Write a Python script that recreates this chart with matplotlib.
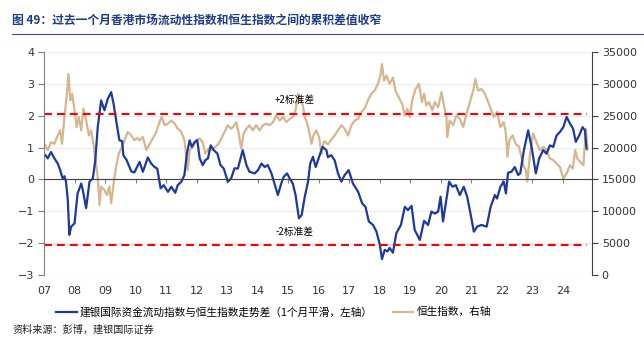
import matplotlib
matplotlib.use('Agg')
import matplotlib.pyplot as plt
from matplotlib.lines import Line2D

plt.rcParams['font.family'] = ['DejaVu Sans', 'Noto Sans CJK SC']
cjk = ['Noto Sans CJK SC', 'DejaVu Sans']

# blue line: liquidity index vs HSI spread, 1m smoothed (left axis)
flow_t = [2007.05, 2007.12, 2007.23, 2007.34, 2007.45, 2007.53, 2007.61, 2007.67, 2007.72, 2007.78,
          2007.83, 2007.89, 2008.00, 2008.10, 2008.22, 2008.27, 2008.38, 2008.49, 2008.60, 2008.68,
          2008.76, 2008.87, 2008.98, 2009.09, 2009.20, 2009.28, 2009.38, 2009.47, 2009.56, 2009.60,
          2009.71, 2009.86, 2009.96, 2010.13, 2010.24, 2010.40, 2010.51, 2010.62, 2010.71, 2010.82,
          2010.92, 2011.06, 2011.17, 2011.30, 2011.38, 2011.50, 2011.60, 2011.68, 2011.77, 2011.84,
          2011.93, 2012.02, 2012.10, 2012.20, 2012.28, 2012.37, 2012.46, 2012.56, 2012.68, 2012.78,
          2012.89, 2013.02, 2013.13, 2013.24, 2013.35, 2013.51, 2013.63, 2013.73, 2013.90, 2014.01,
          2014.12, 2014.23, 2014.33, 2014.45, 2014.55, 2014.66, 2014.77, 2014.85, 2014.96, 2015.05,
          2015.15, 2015.24, 2015.35, 2015.44, 2015.54, 2015.65, 2015.72, 2015.81, 2015.90, 2016.01,
          2016.12, 2016.25, 2016.30, 2016.41, 2016.52, 2016.63, 2016.74, 2016.85, 2016.98, 2017.12,
          2017.29, 2017.42, 2017.53, 2017.64, 2017.78, 2017.89, 2018.00, 2018.07, 2018.16, 2018.25,
          2018.32, 2018.43, 2018.54, 2018.69, 2018.82, 2018.92, 2019.04, 2019.14, 2019.31, 2019.45,
          2019.58, 2019.69, 2019.80, 2019.91, 2019.99, 2020.07, 2020.16, 2020.27, 2020.38, 2020.49,
          2020.62, 2020.75, 2020.86, 2020.97, 2021.08, 2021.19, 2021.33, 2021.50, 2021.63, 2021.77,
          2021.84, 2021.95, 2022.06, 2022.13, 2022.20, 2022.31, 2022.42, 2022.53, 2022.60, 2022.72,
          2022.86, 2022.97, 2023.11, 2023.22, 2023.35, 2023.46, 2023.57, 2023.68, 2023.79, 2023.90,
          2024.01, 2024.12, 2024.23, 2024.33, 2024.42, 2024.53, 2024.64, 2024.72, 2024.77]
flow_v = [0.76, 0.66, 0.86, 0.66, 0.50, 0.29, 0.03, 0.10, -0.07, -0.65,
          -1.74, -1.48, -1.38, -0.44, -0.13, -0.33, -0.90, -0.07, 0.03, 0.60,
          1.64, 2.48, 2.17, 2.53, 2.74, 2.37, 1.75, 1.23, 1.20, 0.76,
          0.60, 0.25, 0.22, 0.55, 0.24, 0.69, 0.50, 0.39, 0.34, -0.28,
          -0.18, -0.39, -0.23, -0.42, -0.18, -0.07, 0.14, 0.81, 1.23, 1.02,
          1.17, 1.23, 0.66, 0.45, 0.60, 0.66, 1.07, 0.92, 0.81, 0.45,
          0.34, -0.07, 0.03, 0.35, 0.34, 0.92, 0.45, 0.24, 0.19, 0.29,
          0.50, 0.39, 0.45, 0.19, -0.13, -0.49, -0.13, 0.08, 0.19, 0.03,
          -0.13, -0.49, -1.22, -1.12, -0.55, -0.07, 0.50, 0.71, 0.39, 0.71,
          1.02, 0.92, 0.70, 0.76, 0.60, 0.19, -0.07, 0.14, 0.29, -0.13,
          -0.39, -0.75, -0.86, -1.32, -1.43, -1.64, -2.05, -2.50, -2.21, -2.26,
          -2.15, -2.30, -1.69, -1.43, -0.86, -0.96, -0.83, -1.58, -1.90, -1.30,
          -1.43, -1.01, -1.07, -1.01, -0.54, -1.32, -0.75, -0.07, -0.23, -0.18,
          -0.49, -0.23, -0.54, -1.07, -1.64, -1.48, -1.43, -1.48, -0.86, -0.49,
          -0.60, -0.23, -0.07, -0.44, 0.21, 0.24, 0.39, 0.14, 0.19, 0.92,
          1.54, 1.02, 0.19, 0.66, 0.92, 0.81, 1.07, 1.02, 1.38, 1.49,
          1.64, 1.96, 1.75, 1.59, 1.18, 1.38, 1.64, 1.54, 0.97]

# tan line: Hang Seng index (right axis)
hsi_t = [2007.01, 2007.12, 2007.23, 2007.34, 2007.45, 2007.53, 2007.59, 2007.67, 2007.74, 2007.80,
         2007.86, 2007.92, 2008.00, 2008.07, 2008.14, 2008.22, 2008.29, 2008.38, 2008.47, 2008.54,
         2008.62, 2008.69, 2008.76, 2008.82, 2008.87, 2008.98, 2009.06, 2009.14, 2009.20, 2009.28,
         2009.36, 2009.45, 2009.53, 2009.64, 2009.74, 2009.86, 2009.96, 2010.05, 2010.13, 2010.24,
         2010.35, 2010.46, 2010.56, 2010.68, 2010.78, 2010.86, 2010.95, 2011.06, 2011.17, 2011.28,
         2011.38, 2011.50, 2011.60, 2011.66, 2011.71, 2011.77, 2011.88, 2011.99, 2012.10, 2012.20,
         2012.28, 2012.39, 2012.50, 2012.61, 2012.72, 2012.83, 2012.94, 2013.02, 2013.13, 2013.19,
         2013.30, 2013.38, 2013.46, 2013.54, 2013.63, 2013.73, 2013.84, 2013.95, 2014.06, 2014.17,
         2014.28, 2014.39, 2014.50, 2014.61, 2014.72, 2014.83, 2014.94, 2015.05, 2015.15, 2015.24,
         2015.32, 2015.40, 2015.48, 2015.54, 2015.61, 2015.70, 2015.76, 2015.83, 2015.92, 2016.01,
         2016.09, 2016.16, 2016.19, 2016.30, 2016.41, 2016.52, 2016.63, 2016.74, 2016.85, 2016.96,
         2017.07, 2017.18, 2017.29, 2017.40, 2017.50, 2017.61, 2017.72, 2017.83, 2017.94, 2018.02,
         2018.07, 2018.14, 2018.22, 2018.32, 2018.43, 2018.51, 2018.62, 2018.73, 2018.82, 2018.90,
         2018.98, 2019.06, 2019.17, 2019.28, 2019.38, 2019.45, 2019.52, 2019.61, 2019.72, 2019.80,
         2019.91, 2020.02, 2020.10, 2020.18, 2020.21, 2020.29, 2020.40, 2020.51, 2020.62, 2020.73,
         2020.84, 2020.95, 2021.06, 2021.13, 2021.22, 2021.33, 2021.44, 2021.55, 2021.63, 2021.74,
         2021.84, 2021.95, 2022.06, 2022.13, 2022.18, 2022.24, 2022.35, 2022.45, 2022.56, 2022.70,
         2022.78, 2022.83, 2022.91, 2023.02, 2023.13, 2023.24, 2023.35, 2023.46, 2023.57, 2023.68,
         2023.79, 2023.90, 2024.01, 2024.12, 2024.23, 2024.32, 2024.40, 2024.47, 2024.56, 2024.67,
         2024.75, 2024.80]
hsi_v = [20600, 19600, 20850, 20600, 21900, 22700, 20600, 24800, 27900, 31550,
         27400, 28450, 25850, 23200, 24800, 22700, 26100, 24250, 21900, 22700,
         20600, 18000, 15400, 11000, 13850, 13350, 12550, 13850, 11250, 14350,
         16950, 19050, 19850, 21150, 22450, 21900, 21150, 21500, 21150, 21650,
         19600, 20600, 21400, 22450, 24000, 24800, 23500, 23750, 24250, 23750,
         22950, 22450, 21150, 18550, 16450, 19600, 20100, 21150, 21400, 20850,
         19050, 19850, 19600, 20100, 20600, 21650, 22700, 23500, 22950, 23200,
         24000, 22200, 19850, 22200, 22950, 23500, 22700, 23500, 22700, 23500,
         23750, 23500, 24000, 25050, 24250, 24800, 24000, 24500, 24800, 25850,
         28450, 27400, 26600, 24800, 24000, 22200, 20600, 21900, 22700, 21650,
         19000, 20850, 21000, 20500, 21250, 21900, 22700, 23500, 22950, 21900,
         23500, 24250, 24500, 25600, 26100, 27400, 28450, 28950, 30000, 31300,
         33100, 30500, 31300, 30000, 31000, 28950, 27900, 26850, 25050, 26100,
         24800, 27400, 29200, 30000, 27150, 28450, 26600, 27150, 25850, 27150,
         26350, 28700, 26600, 24800, 21650, 24250, 23500, 25050, 24500, 23200,
         25300, 27150, 28950, 30750, 28950, 29200, 28450, 27150, 26100, 24800,
         25600, 23200, 24000, 22200, 18550, 21150, 21900, 20600, 20100, 17250,
         16450, 14650, 18550, 22200, 20850, 19600, 20100, 19600, 18300, 18000,
         17500, 16950, 15150, 15950, 17250, 16700, 19600, 18300, 17750, 17250,
         22950, 19600]

years = list(range(2007, 2025))
year_labels = ['%02d' % (y % 100) for y in years]
band = 2.05

blue = '#1B3A9C'
tan = '#D4B68F'

fig = plt.figure(figsize=(6.44, 3.37), dpi=100)
ax = fig.add_axes([44 / 644, 1 - 275 / 337, 548 / 644, 223 / 337])
ax2 = ax.twinx()

ax2.plot(hsi_t, hsi_v, color=tan, lw=1.6)
l1, = ax.plot(flow_t, flow_v, color=blue, lw=1.6)
ax.set_zorder(ax2.get_zorder() + 1)
ax.patch.set_visible(False)

ax.axhline(band, color='#FF0000', lw=1.5, ls=(0, (3.8, 2.4)), xmax=0.99)
ax.axhline(-band, color='#FF0000', lw=1.5, ls=(0, (3.8, 2.4)), xmax=0.99)
ax.text(2015.21, 2.48, '+2标准差', ha='center', va='center', fontsize=7, family=cjk)
ax.text(2015.21, -1.65, '-2标准差', ha='center', va='center', fontsize=7, family=cjk)

ax.set_xlim(2007, 2024.95)
ax.set_ylim(-3, 4)
ax2.set_ylim(0, 35000)
ax.set_yticks(range(-3, 5))
ax2.set_yticks(range(0, 35001, 5000))
ax.set_xticks(years)
ax.set_xticklabels(year_labels)

ax2.grid(axis='y', color='#ececec', lw=0.8)
ax2.set_axisbelow(True)

for a in (ax, ax2):
    a.spines['top'].set_visible(False)
ax.spines['right'].set_visible(False)
ax2.spines['left'].set_visible(False)
ax2.spines['bottom'].set_visible(False)
ax.spines['bottom'].set_position(('data', 0))
ax.spines['bottom'].set_color('#404040')
ax.spines['bottom'].set_linewidth(0.8)
ax.spines['left'].set_color('#808080')
ax2.spines['right'].set_color('#404040')

ax.tick_params(axis='x', length=3, color='#808080', pad=74, labelsize=8, labelcolor='#333333')
ax.tick_params(axis='y', length=4, color='#808080', pad=3, labelsize=8, labelcolor='#333333')
ax2.tick_params(axis='y', length=4, color='#404040', pad=3, labelsize=8, labelcolor='#333333')

l2 = Line2D([], [], color=tan, lw=1.6)
fig.legend([l1, l2], ['建银国际资金流动指数与恒生指数走势差（1个月平滑，左轴）', '恒生指数，右轴'],
           loc='center left', bbox_to_anchor=(52 / 644, 1 - 312 / 337), ncol=2, frameon=False,
           prop={'family': cjk, 'size': 7.7}, handlelength=1.9, handletextpad=0.3,
           columnspacing=1.9, borderaxespad=0)

fig.text(12 / 644, 1 - 20 / 337, '图 49：过去一个月香港市场流动性指数和恒生指数之间的累积差值收窄',
         fontsize=8.5, fontweight='bold', color='#1F3C88', family=cjk, va='center')
fig.add_artist(Line2D([12 / 644, 1], [1 - 33.5 / 337] * 2, transform=fig.transFigure,
                      color='#3A4FA0', lw=0.8))
fig.text(12 / 644, 1 - 330 / 337, '资料来源：彭博，建银国际证券', fontsize=7.3, style='italic',
         family=cjk, va='center', color='#222222')

fig.savefig('out.png', dpi=100)
